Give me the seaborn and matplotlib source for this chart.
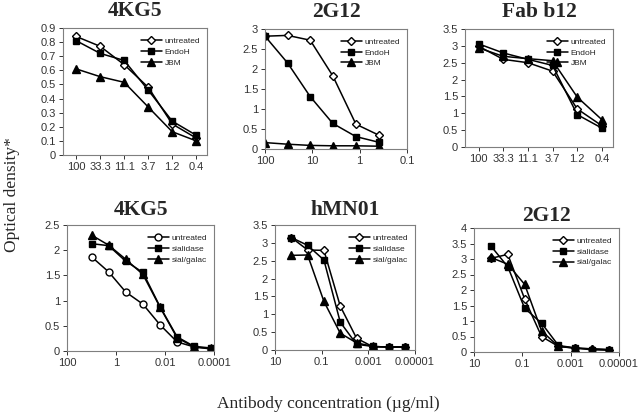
import numpy as np
import pandas as pd
import matplotlib
matplotlib.use("Agg")
import matplotlib.pyplot as plt
from matplotlib.ticker import FixedLocator, FuncFormatter, NullLocator
import seaborn as sns

# --- data ---
top_labels = ["100", "33.3", "11.1", "3.7", "1.2", "0.4"]
top_conc = [100, 33.3, 11.1, 3.7, 1.2, 0.4]

kg5_top_untreated = [0.84, 0.77, 0.64, 0.48, 0.22, 0.12]
kg5_top_endoh = [0.81, 0.72, 0.67, 0.46, 0.24, 0.14]
kg5_top_jbm = [0.61, 0.555, 0.515, 0.34, 0.165, 0.10]

g12_top_untreated = [2.82, 2.84, 2.72, 1.83, 0.62, 0.35]
g12_top_endoh = [2.82, 2.15, 1.31, 0.64, 0.31, 0.17]
g12_top_jbm = [0.16, 0.12, 0.09, 0.08, 0.08, 0.07]

fab_untreated = [2.99, 2.60, 2.50, 2.25, 1.13, 0.63]
fab_endoh = [3.06, 2.79, 2.60, 2.42, 0.96, 0.56]
fab_jbm = [2.94, 2.69, 2.62, 2.56, 1.48, 0.81]

kg5_conc = [10, 2, 0.4, 0.08, 0.016, 0.0032, 0.00064, 0.000128]
kg5_untreated = [1.87, 1.57, 1.17, 0.93, 0.52, 0.18, 0.08, 0.04]
kg5_sialidase = [2.13, 2.09, 1.78, 1.56, 0.88, 0.28, 0.09, 0.06]
kg5_sialgalac = [2.30, 2.10, 1.82, 1.52, 0.87, 0.26, 0.08, 0.05]

bot_conc = [2, 0.4, 0.08, 0.016, 0.0032, 0.00064, 0.000128, 0.0000256]
hmn_untreated = [3.15, 2.80, 2.79, 1.23, 0.33, 0.09, 0.09, 0.09]
hmn_sialidase = [3.15, 2.93, 2.52, 0.78, 0.16, 0.10, 0.08, 0.08]
hmn_sialgalac = [2.65, 2.66, 1.36, 0.47, 0.20, 0.10, 0.08, 0.08]

g12_untreated = [3.02, 3.15, 1.71, 0.50, 0.18, 0.12, 0.10, 0.07]
g12_sialidase = [3.42, 2.75, 1.41, 0.93, 0.21, 0.13, 0.07, 0.06]
g12_sialgalac = [3.05, 2.83, 2.18, 0.68, 0.18, 0.13, 0.10, 0.08]

top_series = ["untreated", "EndoH", "JBM"]
bot_series = ["untreated", "sialidase", "sial/galac"]

sns.set_style("ticks")
plt.rcParams["font.family"] = ["Liberation Sans", "DejaVu Sans"]

W, H = 638, 417
fig = plt.figure(figsize=(W / 100, H / 100), dpi=100)


def make_ax(left, right, top, bottom):
    return fig.add_axes([left / W, 1 - bottom / H, (right - left) / W, (bottom - top) / H])


def draw(ax, x, ys, names, open_marker):
    styles = [
        dict(marker=open_marker, markerfacecolor="white", markersize=4.5 if open_marker == "D" else 5),
        dict(marker="s", markerfacecolor="black", markersize=5),
        dict(marker="^", markerfacecolor="black", markersize=5.5),
    ]
    for y, name, st in zip(ys, names, styles):
        sns.lineplot(x=x, y=y, ax=ax, color="black", linewidth=1.1, label=name,
                     markeredgecolor="black", markeredgewidth=1.0, **st)
    ax.legend(loc="upper right", frameon=False, fontsize=6, handlelength=2.6,
              handletextpad=0.3, labelspacing=0.35, borderaxespad=0.4,
              bbox_to_anchor=(1.0, 0.98))


def style(ax, ymax, ystep, title, title_y):
    ax.set_ylim(0, ymax)
    ax.yaxis.set_major_locator(FixedLocator(np.arange(0, ymax + 1e-9, ystep)))
    ax.yaxis.set_major_formatter(FuncFormatter(lambda v, p: "%g" % round(v, 2)))
    ax.tick_params(labelsize=8, length=3, width=0.7, colors="#333333", pad=2)
    for s in ax.spines.values():
        s.set_color("#7f7f7f")
        s.set_linewidth(0.8)
    ax.set_xlabel("")
    ax.set_ylabel("")
    ax.text(0.5, title_y, title, transform=ax.transAxes, ha="center", va="center",
            fontsize=15.5, fontweight="bold", family="Liberation Serif")


def log_ticks(ax, lo, hi, ticks, labels):
    ax.set_xscale("log")
    ax.set_xlim(hi, lo)
    ax.xaxis.set_major_locator(FixedLocator(ticks))
    ax.xaxis.set_minor_locator(NullLocator())
    ax.set_xticklabels(labels)


# top row
pos = np.arange(len(top_conc))

ax1 = make_ax(63, 207, 28, 155)
draw(ax1, pos, [kg5_top_untreated, kg5_top_endoh, kg5_top_jbm], top_series, "D")
ax1.set_xlim(-0.55, 5.45)
ax1.set_xticks(pos)
ax1.set_xticklabels(top_labels)
style(ax1, 0.9, 0.1, "4KG5", 1.13)

ax2 = make_ax(265, 407, 29, 149)
draw(ax2, top_conc, [g12_top_untreated, g12_top_endoh, g12_top_jbm], top_series, "D")
log_ticks(ax2, 0.1, 100, [100, 10, 1, 0.1], ["100", "10", "1", "0.1"])
style(ax2, 3, 0.5, "2G12", 1.14)

ax3 = make_ax(465, 613, 29, 147)
draw(ax3, pos, [fab_untreated, fab_endoh, fab_jbm], top_series, "D")
ax3.set_xlim(-0.55, 5.45)
ax3.set_xticks(pos)
ax3.set_xticklabels(top_labels)
style(ax3, 3.5, 0.5, "Fab b12", 1.14)

# bottom row
ax4 = make_ax(67, 214, 225, 351)
draw(ax4, kg5_conc, [kg5_untreated, kg5_sialidase, kg5_sialgalac], bot_series, "o")
log_ticks(ax4, 1e-4, 100, [100, 1, 0.01, 0.0001], ["100", "1", "0.01", "0.0001"])
style(ax4, 2.5, 0.5, "4KG5", 1.12)

ax5 = make_ax(275, 415, 225, 350)
draw(ax5, bot_conc, [hmn_untreated, hmn_sialidase, hmn_sialgalac], bot_series, "D")
log_ticks(ax5, 1e-5, 10, [10, 0.1, 0.001, 0.00001], ["10", "0.1", "0.001", "0.00001"])
style(ax5, 3.5, 0.5, "hMN01", 1.12)

ax6 = make_ax(474, 619, 228, 352)
draw(ax6, bot_conc, [g12_untreated, g12_sialidase, g12_sialgalac], bot_series, "D")
log_ticks(ax6, 1e-5, 10, [10, 0.1, 0.001, 0.00001], ["10", "0.1", "0.001", "0.00001"])
style(ax6, 4, 0.5, "2G12", 1.10)

fig.text(12 / W, 1 - 195 / H, "Optical density*", rotation=90, ha="center", va="center",
         fontsize=12.5, family="Liberation Serif")
fig.text(328 / W, 1 - 404 / H, "Antibody concentration (\u00b5g/ml)", ha="center", va="center",
         fontsize=12.5, family="Liberation Serif")

fig.savefig("out.png", dpi=100, facecolor="white")
